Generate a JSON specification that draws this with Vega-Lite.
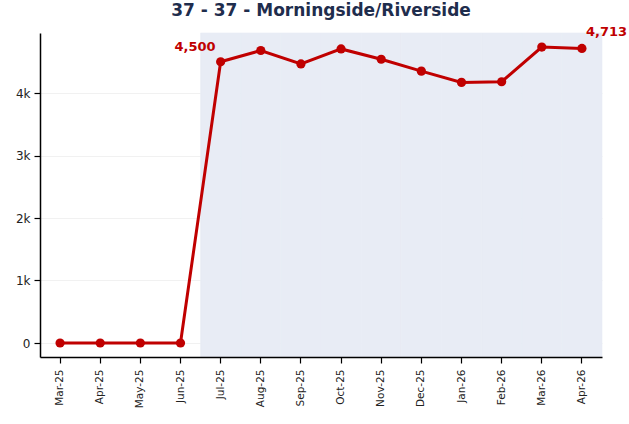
{
  "$schema": "https://vega.github.io/schema/vega-lite/v6.json",
  "width": 562,
  "height": 324,
  "autosize": {"type": "none"},
  "padding": {"left": 40, "top": 33, "right": 27, "bottom": 67},
  "background": "white",
  "config": {
    "font": "DejaVu Sans",
    "view": {"stroke": null}
  },
  "title": {
    "text": "37 - 37 - Morningside/Riverside",
    "font": "DejaVu Sans",
    "fontSize": 17,
    "fontWeight": "bold",
    "color": "#1f2d4d",
    "anchor": "middle",
    "offset": 6
  },
  "data": {
    "values": [
      {"month": "Mar-25", "value": 0},
      {"month": "Apr-25", "value": 0},
      {"month": "May-25", "value": 0},
      {"month": "Jun-25", "value": 0},
      {"month": "Jul-25", "value": 4500},
      {"month": "Aug-25", "value": 4680},
      {"month": "Sep-25", "value": 4465},
      {"month": "Oct-25", "value": 4705},
      {"month": "Nov-25", "value": 4540},
      {"month": "Dec-25", "value": 4350},
      {"month": "Jan-26", "value": 4170},
      {"month": "Feb-26", "value": 4180},
      {"month": "Mar-26", "value": 4735},
      {"month": "Apr-26", "value": 4713}
    ]
  },
  "encoding": {
    "x": {
      "field": "month",
      "type": "ordinal",
      "sort": ["Mar-25", "Apr-25", "May-25", "Jun-25", "Jul-25", "Aug-25", "Sep-25", "Oct-25", "Nov-25", "Dec-25", "Jan-26", "Feb-26", "Mar-26", "Apr-26"],
      "scale": {"type": "band", "paddingInner": 0, "paddingOuter": 0},
      "axis": {
        "title": null,
        "labelAngle": -90,
        "labelFontSize": 10.5,
        "labelColor": "#222",
        "domainColor": "#000",
        "domainWidth": 1.5,
        "tickColor": "#000",
        "tickWidth": 1.2,
        "tickSize": 6,
        "labelPadding": 6,
        "grid": false,
        "zindex": 2
      }
    }
  },
  "layer": [
    {
      "transform": [{"filter": "indexof(['Mar-25','Apr-25','May-25','Jun-25'], datum.month) < 0"}],
      "mark": {"type": "rect", "color": "#e8ecf5", "stroke": "#e8ecf5", "strokeWidth": 0.6}
    },
    {
      "mark": {"type": "line", "color": "#c00000", "strokeWidth": 3},
      "encoding": {
        "y": {
          "field": "value",
          "type": "quantitative",
          "scale": {"domain": [-224, 4960], "nice": false, "zero": false},
          "axis": {
            "title": null,
            "values": [0, 1000, 2000, 3000, 4000],
            "labelExpr": "datum.value == 0 ? '0' : (datum.value / 1000) + 'k'",
            "labelFontSize": 12,
            "labelColor": "#222",
            "domainColor": "#000",
            "domainWidth": 1.5,
            "tickColor": "#000",
            "tickWidth": 1.2,
            "tickSize": 6,
            "labelPadding": 4,
            "grid": true,
            "gridColor": "#eeeeee",
            "gridWidth": 0.8
          }
        }
      }
    },
    {
      "mark": {"type": "point", "filled": true, "color": "#c00000", "size": 85, "opacity": 1},
      "encoding": {
        "y": {"field": "value", "type": "quantitative"}
      }
    },
    {
      "transform": [{"filter": "datum.month == 'Jul-25'"}],
      "mark": {"type": "text", "color": "#c00000", "fontWeight": "bold", "fontSize": 13, "align": "right", "dx": -5, "dy": -15},
      "encoding": {
        "y": {"field": "value", "type": "quantitative"},
        "text": {"field": "value", "type": "quantitative", "format": ","}
      }
    },
    {
      "transform": [{"filter": "datum.month == 'Apr-26'"}],
      "mark": {"type": "text", "color": "#c00000", "fontWeight": "bold", "fontSize": 13, "align": "left", "dx": 4, "dy": -16},
      "encoding": {
        "y": {"field": "value", "type": "quantitative"},
        "text": {"field": "value", "type": "quantitative", "format": ","}
      }
    }
  ]
}
